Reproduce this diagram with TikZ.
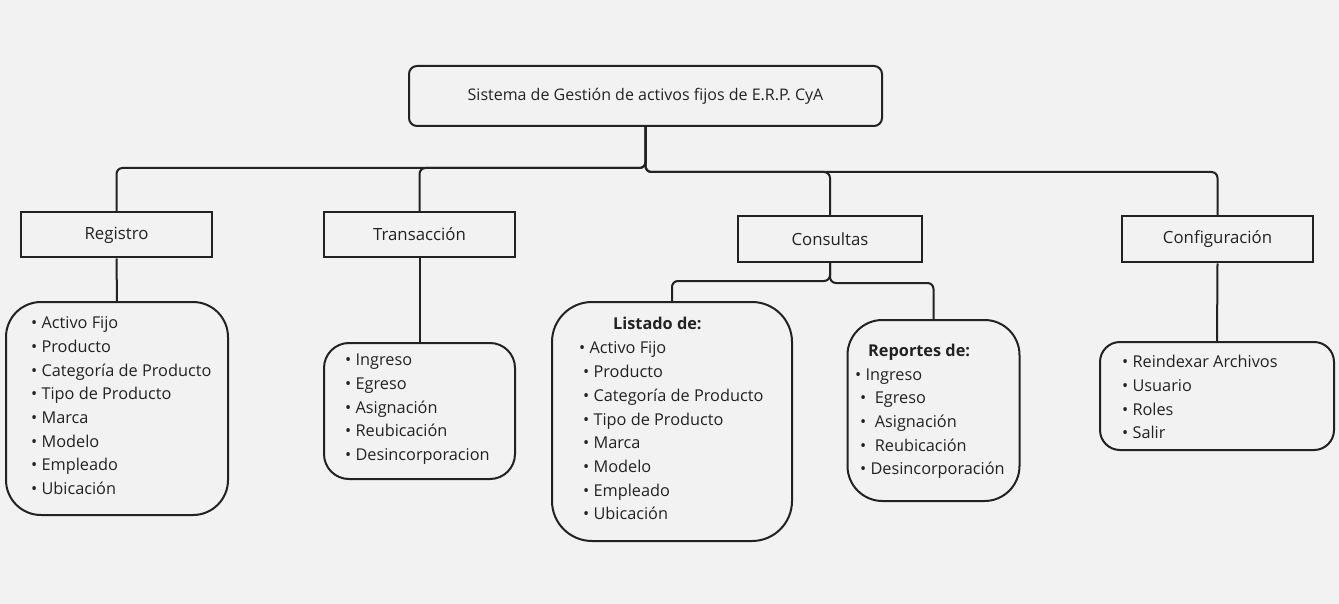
\documentclass[tikz,border=0pt]{standalone}
\usepackage{fontspec}
\setmainfont{Open Sans}
\definecolor{bg}{HTML}{F2F2F2}
\definecolor{ink}{HTML}{222222}
\tikzset{
  boxa/.style={draw=ink, line width=2pt, fill=bg, inner sep=0pt, text=ink, font=\fontsize{16.8}{20}\selectfont},
  rbox/.style={boxa, rounded corners=#1},
  conn/.style={draw=ink, line width=2pt, rounded corners=6pt},
  itm/.style={anchor=mid west, inner sep=0pt, text=ink, font=\fontsize{16.3}{19}\selectfont},
  hdr/.style={itm, font=\fontsize{16.3}{19}\selectfont\bfseries}
}
\begin{document}
\begin{tikzpicture}[x=1pt,y=-1pt]
\fill[bg] (0,0) rectangle (1339,604);
\useasboundingbox (0,0) rectangle (1339,604);

% main nodes
\node[rbox=8pt, minimum width=473pt, minimum height=60pt, font=\fontsize{16}{19}\selectfont] (root) at (645.5,96) {Sistema de Gestión de activos fijos de E.R.P. CyA};
\node[boxa, minimum width=191pt, minimum height=45pt] (reg) at (116.5,235) {Registro};
\node[boxa, minimum width=191pt, minimum height=45pt] (tra) at (419.5,234.5) {Transacción};
\node[boxa, minimum width=184pt, minimum height=46pt] (con) at (830,239) {Consultas};
\node[boxa, minimum width=191pt, minimum height=46pt] (cfg) at (1217.5,239.5) {Configuración};

% list boxes
\node[rbox=35pt, minimum width=222pt, minimum height=213pt] (regl) at (117,408.5) {};
\node[rbox=25pt, minimum width=191pt, minimum height=136pt] (tral) at (419.5,411) {};
\node[rbox=40pt, minimum width=240pt, minimum height=239pt] (lisl) at (672,421.5) {};
\node[rbox=35pt, minimum width=172pt, minimum height=181pt] (repl) at (933.5,410.5) {};
\node[rbox=20pt, minimum width=234pt, minimum height=108pt] (cfgl) at (1217,396) {};

% junctions
\coordinate (jl) at (645.5,168);
\coordinate (jr) at (645.5,172);
\coordinate (cl) at (830,281);
\coordinate (cr) at (830,283);

% connectors
\draw[conn] (root.south) -- (jl) -| (reg.north);
\draw[conn] (root.south) -- (jl) -| (tra.north);
\draw[conn] (root.south) -- (jr) -| (con.north);
\draw[conn] (root.south) -- (jr) -| (cfg.north);
\draw[conn] (reg.south) -- (regl.north);
\draw[conn] (tra.south) -- (tral.north);
\draw[conn] (cfg.south) -- (cfgl.north);
\draw[conn] (con.south) -- (cl) -| (lisl.north);
\draw[conn] (con.south) -- (cr) -| (repl.north);

% Registro items
\foreach \t [count=\i from 0] in {Activo Fijo,Producto,Categoría de Producto,Tipo de Producto,Marca,Modelo,Empleado,Ubicación}
  \node[itm] at (31,{326+\i*23.7}) {• \t};

% Transaccion items
\foreach \t [count=\i from 0] in {Ingreso,Egreso,Asignación,Reubicación,Desincorporacion}
  \node[itm] at (345,{363+\i*23.7}) {• \t};

% Listado
\node[hdr] at (613,327) {Listado de:};
\node[itm] at (579,351) {• Activo Fijo};
\foreach \t [count=\i from 0] in {Producto,Categoría de Producto,Tipo de Producto,Marca,Modelo,Empleado,Ubicación}
  \node[itm] at (583,{375+\i*23.7}) {• \t};

% Reportes
\node[hdr] at (868,354) {Reportes de:};
\node[itm] at (855,378) {• Ingreso};
\foreach \t [count=\i from 0] in {Egreso,Asignación,Reubicación}
  \node[itm] at (860,{401+\i*23.7}) {•\hspace{8.5pt}\t};
\node[itm] at (860,472) {• Desincorporación};

% Configuracion items
\foreach \t [count=\i from 0] in {Reindexar Archivos,Usuario,Roles,Salir}
  \node[itm] at (1122,{365+\i*23.7}) {• \t};
\end{tikzpicture}
\end{document}
